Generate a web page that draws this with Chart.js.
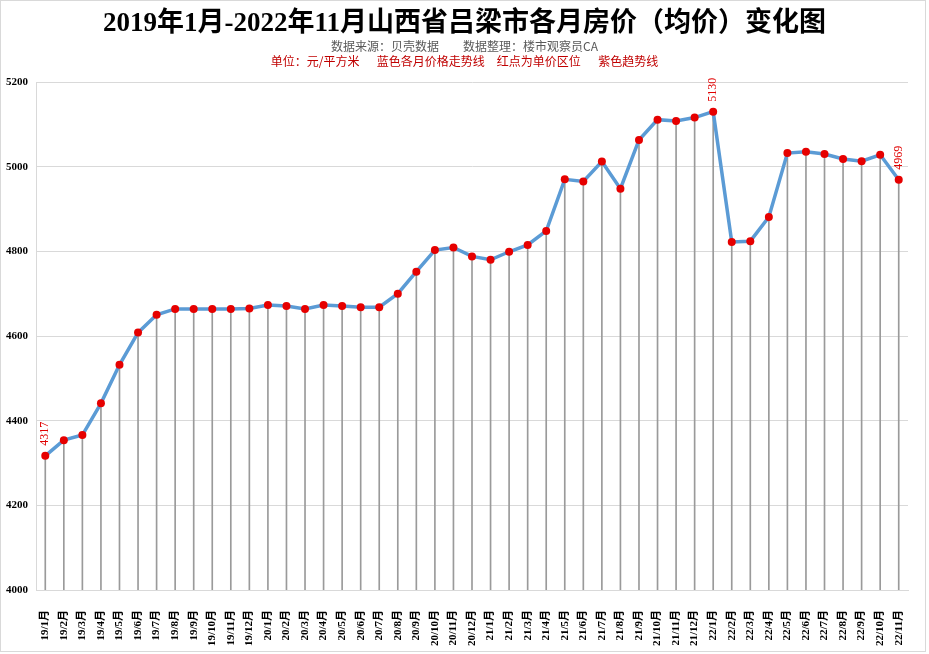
<!DOCTYPE html>
<html>
<head>
<meta charset="utf-8">
<script src="https://cdn.jsdelivr.net/npm/chart.js@4"></script>
<style>
  body { margin: 0; background: #fff; }
  #wrap { position: relative; width: 929px; height: 654px; }
  #frame { position: absolute; left: 0; top: 0; width: 924px; height: 650px; border: 1px solid #d9d9d9; pointer-events: none; }
</style>
</head>
<body>
<div id="wrap">
  <canvas id="chart" width="929" height="654"></canvas>
  <div id="frame"></div>
</div>
<script>
// months 19/1 .. 22/11
const months = [
    "19/1月", "19/2月", "19/3月", "19/4月", "19/5月", "19/6月", "19/7月", "19/8月", "19/9月", "19/10月", "19/11月", "19/12月",
    "20/1月", "20/2月", "20/3月", "20/4月", "20/5月", "20/6月", "20/7月", "20/8月", "20/9月", "20/10月", "20/11月", "20/12月",
    "21/1月", "21/2月", "21/3月", "21/4月", "21/5月", "21/6月", "21/7月", "21/8月", "21/9月", "21/10月", "21/11月", "21/12月",
    "22/1月", "22/2月", "22/3月", "22/4月", "22/5月", "22/6月", "22/7月", "22/8月", "22/9月", "22/10月", "22/11月"
];

// average price, yuan / m2
const prices = [
    4317, 4354, 4366, 4441, 4532, 4608, 4650, 4664, 4664, 4664, 4664, 4665,
    4673, 4671, 4664, 4673, 4671, 4668, 4668, 4700, 4752, 4803, 4809, 4788,
    4780, 4799, 4815, 4848, 4970, 4965, 5012, 4948, 5063, 5111, 5108, 5116,
    5130, 4822, 4824, 4881, 5032, 5035, 5030, 5018, 5013, 5028, 4969
];

// points that get a value label (first, max, last)
const labelled = [0, 36, 46];

const yTicks = [4000, 4200, 4400, 4600, 4800, 5000, 5200];

const serif = '"Liberation Serif", "Noto Sans CJK SC", serif';
const sans = '"Noto Sans CJK SC", sans-serif';

// header lines
const headerPlugin = {
    id: "header",
    afterDraw(chart) {
        const ctx = chart.ctx;
        const cx = chart.width / 2;
        ctx.save();
        ctx.textAlign = "center";
        ctx.textBaseline = "middle";
        ctx.fillStyle = "#000";
        ctx.font = "bold 27px " + serif;
        ctx.fillText("2019年1月-2022年11月山西省吕梁市各月房价（均价）变化图", cx, 24);
        ctx.fillStyle = "#595959";
        ctx.font = "12px " + sans;
        ctx.fillText("数据来源：贝壳数据　　数据整理：楼市观察员CA", cx, 46);
        ctx.fillStyle = "#c00000";
        ctx.fillText("单位：元/平方米　  蓝色各月价格走势线　红点为单价区位　  紫色趋势线", cx, 61);
        ctx.restore();
    }
};

// rotated value labels above selected points
const valueLabels = {
    id: "valueLabels",
    afterDatasetsDraw(chart) {
        const meta = chart.getDatasetMeta(0);
        const ctx = chart.ctx;
        ctx.save();
        ctx.fillStyle = "#e00000";
        ctx.font = "12px " + serif;
        ctx.textAlign = "left";
        ctx.textBaseline = "middle";
        labelled.forEach(i => {
            const pt = meta.data[i];
            ctx.save();
            ctx.translate(pt.x, pt.y - 10);
            ctx.rotate(-Math.PI / 2);
            ctx.fillText(String(prices[i]), 0, 0);
            ctx.restore();
        });
        ctx.restore();
    }
};

const ctx = document.getElementById("chart").getContext("2d");
new Chart(ctx, {
    data: {
        labels: months,
        datasets: [
            {
                type: "line",
                data: prices,
                borderColor: "#5b9bd5",
                borderWidth: 3.5,
                pointBackgroundColor: "#e60000",
                pointBorderWidth: 0,
                pointRadius: 4,
                tension: 0,
                order: 0
            },
            {
                // drop lines from each point to the axis
                type: "bar",
                data: prices,
                backgroundColor: "#9a9a9a",
                barThickness: 1,
                grouped: false,
                order: 1
            }
        ]
    },
    options: {
        responsive: false,
        animation: false,
        layout: { padding: { top: 82, left: 2, right: 21, bottom: 0 } },
        plugins: {
            legend: { display: false },
            tooltip: { enabled: false }
        },
        scales: {
            x: {
                offset: true,
                grid: { display: false },
                border: { color: "#d9d9d9" },
                ticks: {
                    autoSkip: false,
                    maxRotation: 90,
                    minRotation: 90,
                    padding: 12,
                    color: "#000",
                    font: { family: serif, size: 11, weight: "bold" }
                },
                afterFit: s => { s.height = 64; }
            },
            y: {
                min: 4000,
                max: 5200,
                afterBuildTicks: s => { s.ticks = yTicks.map(v => ({ value: v })); },
                grid: { color: "#d9d9d9", drawTicks: false },
                border: { color: "#d9d9d9" },
                ticks: {
                    padding: 8,
                    color: "#000",
                    font: { family: serif, size: 11, weight: "bold" },
                    callback: v => String(v)
                },
                afterFit: s => { s.width = 34; }
            }
        }
    },
    plugins: [headerPlugin, valueLabels]
});
</script>
</body>
</html>
